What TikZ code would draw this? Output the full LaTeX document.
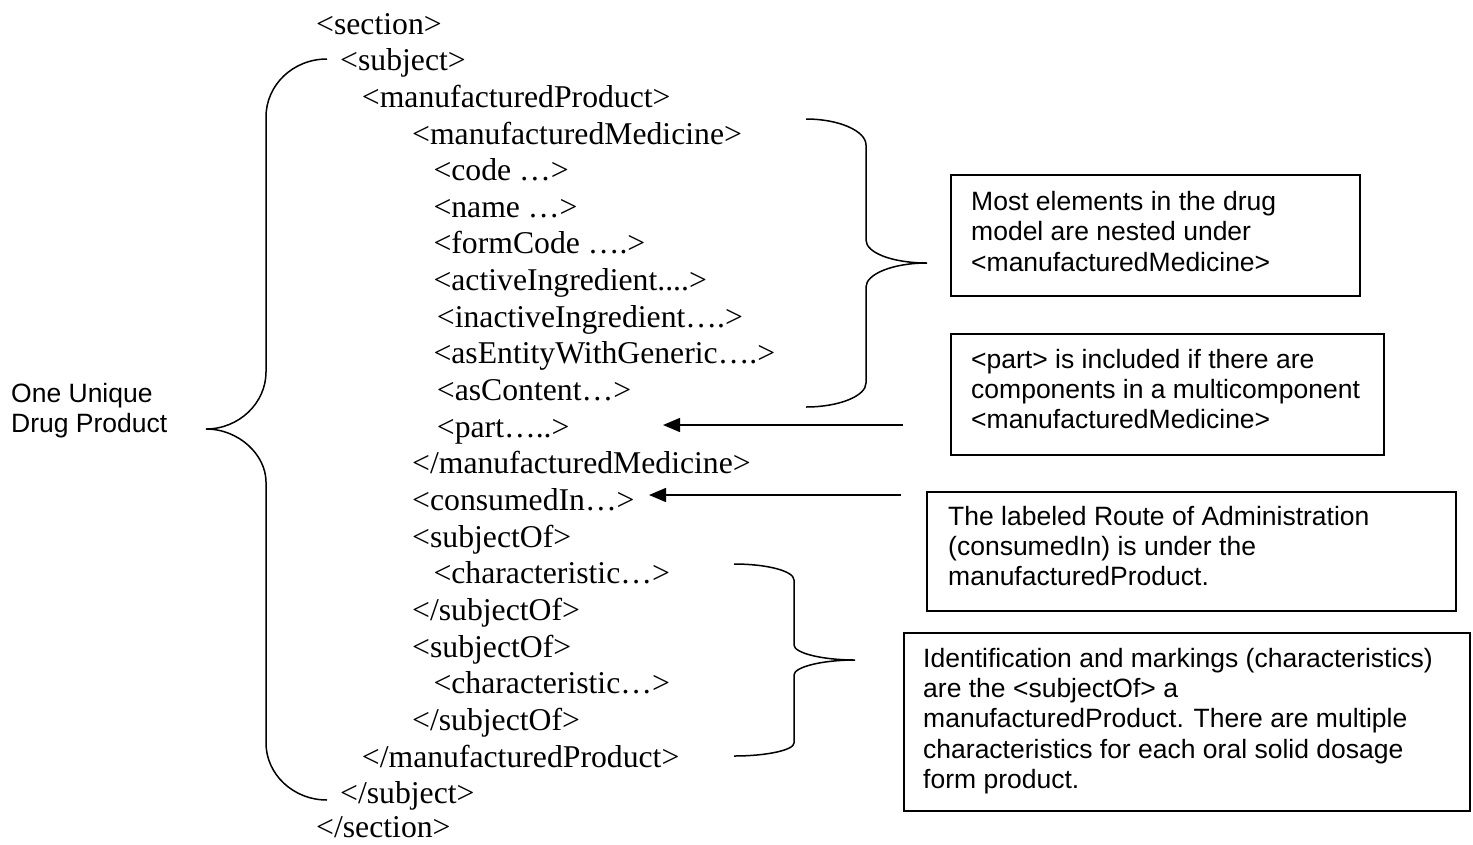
\documentclass[tikz,border=0pt]{standalone}
\usepackage{fontspec}
\setmainfont{Liberation Serif}
\newfontfamily\arialfont{Liberation Sans}
\usetikzlibrary{arrows.meta}

\tikzset{
  xml/.style={anchor=base west, inner sep=0pt, font=\fontsize{31.7}{36.65}\selectfont},
  note/.style={anchor=north west, inner sep=0pt, align=left, font=\arialfont\fontsize{26.5}{30.4}\selectfont},
  notebox/.style={draw, line width=1.5pt, anchor=north west, inner sep=0pt},
  brace/.style={line width=1.5pt},
  pointer/.style={line width=1.5pt, -{Triangle[length=17pt,width=14pt]}}
}

\begin{document}
\begin{tikzpicture}[x=1pt,y=-1pt]
\useasboundingbox (0,0) rectangle (1473,844);
% Draw XML lines
\node[xml] (sec) at (316,34) {<section>};
\node[xml] (subj) at (340,70.7) {<subject>};
\node[xml] (mprod) at (361.7,107.3) {<manufacturedProduct>};
\node[xml] (mmed) at (412,144) {<manufacturedMedicine>};
\node[xml] (code) at (433.3,180.6) {<code …>};
\node[xml] (name) at (433.3,217.3) {<name …>};
\node[xml] (form) at (433.3,253.9) {<formCode ….>};
\node[xml] (active) at (433.3,290.6) {<activeIngredient....>};
\node[xml] (inactive) at (436.7,327.2) {<inactiveIngredient….>};
\node[xml] (generic) at (433.3,363.9) {<asEntityWithGeneric….>};
\node[xml] (content) at (436.7,400.5) {<asContent…>};
\node[xml] (part) at (436.7,437.2) {<part…..>};
\node[xml] (mmedend) at (412,473.8) {</manufacturedMedicine>};
\node[xml] (consumed) at (412,510.5) {<consumedIn…>};
\node[xml] (subof) at (412,547.1) {<subjectOf>};
\node[xml] (charone) at (433.3,583.8) {<characteristic…>};
\node[xml] (subofend) at (412,620.4) {</subjectOf>};
\node[xml] (subofb) at (412,657.1) {<subjectOf>};
\node[xml] (chartwo) at (433.3,693.7) {<characteristic…>};
\node[xml] (subofbend) at (412,730.4) {</subjectOf>};
\node[xml] (mprodend) at (361.7,767) {</manufacturedProduct>};
\node[xml] (subjend) at (340,803.7) {</subject>};
\node[xml] (secend) at (316,837.5) {</section>};
% Draw left label
\node[note] (unique) at (11,382.7) {One Unique\\Drug Product};
% Draw big brace
\draw[brace] (327,59) .. controls (293,59) and (266,85) .. (266,117)
  -- (266,372) .. controls (266,403) and (239,429) .. (206,429)
  .. controls (239,429) and (266,455) .. (266,482)
  -- (266,743) .. controls (266,774) and (293,800) .. (327,800);
% Draw brace for manufacturedMedicine
\draw[brace] (806,119) .. controls (839,119) and (866,131) .. (866,145)
  -- (866,240) .. controls (866,253) and (893,263) .. (927,263)
  .. controls (893,263) and (866,274) .. (866,287)
  -- (866,383) .. controls (866,396) and (839,407) .. (806,407);
% Draw brace for characteristics
\draw[brace] (734,564) .. controls (767,564) and (794,571) .. (794,580)
  -- (794,645) .. controls (794,653) and (822,660) .. (855,660)
  .. controls (822,660) and (794,667) .. (794,675)
  -- (794,743) .. controls (794,750) and (767,756) .. (734,756);
% Draw boxes
\node[notebox, minimum width=409pt, minimum height=121pt] (boxmost) at (950,174) {};
\node[notebox, minimum width=433pt, minimum height=121pt] (boxpart) at (950,333) {};
\node[notebox, minimum width=529pt, minimum height=119pt] (boxroute) at (926,491) {};
\node[notebox, minimum width=566pt, minimum height=178pt] (boxident) at (903,632) {};
% Draw box texts
\node[note] (textmost) at (971,191) {Most elements in the drug\\model are nested under\\<manufacturedMedicine>};
\node[note] (textpart) at (971,348.7) {<part> is included if there are\\components in a multicomponent\\<manufacturedMedicine>};
\node[note] (textroute) at (948,505.7) {The labeled Route of Administration\\(consumedIn) is under the\\manufacturedProduct.};
\node[note] (textident) at (923,647.7) {Identification and markings (characteristics)\\are the <subjectOf> a\\manufacturedProduct. There are multiple\\characteristics for each oral solid dosage\\form product.};
% Draw arrows
\coordinate (parttail) at (903,425);
\coordinate (parthead) at (663,425);
\coordinate (consumedtail) at (901,495);
\coordinate (consumedhead) at (649,495);
\draw[pointer] (parttail) -- (parthead);
\draw[pointer] (consumedtail) -- (consumedhead);
\end{tikzpicture}
\end{document}
